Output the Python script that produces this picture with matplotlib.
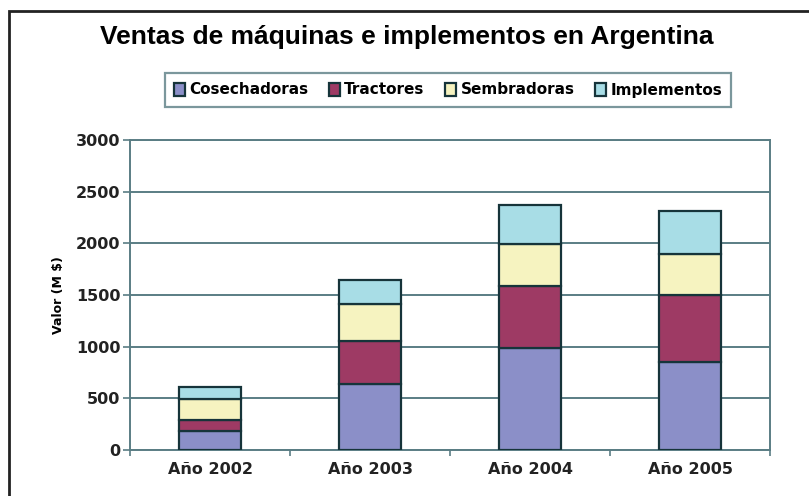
import matplotlib

matplotlib.use("Agg")
import matplotlib.pyplot as plt
import numpy as np
from matplotlib.patches import Rectangle

years = ["Año 2002", "Año 2003", "Año 2004", "Año 2005"]
cosechadoras = [187, 638, 986, 848]
tractores = [103, 416, 603, 648]
sembradoras = [203, 358, 400, 399]
implementos = [119, 232, 380, 419]

series = [
    ("Cosechadoras", cosechadoras, "#8b8fc8"),
    ("Tractores", tractores, "#9e3a64"),
    ("Sembradoras", sembradoras, "#f6f3c0"),
    ("Implementos", implementos, "#a8dde6"),
]

grid_c = "#5a7d84"
edge_c = "#16343a"

fig = plt.figure(figsize=(8.09, 4.96), dpi=100)
fig.patch.set_facecolor("white")
ax = fig.add_axes([130 / 809, 1 - 450 / 496, 640 / 809, 310 / 496])

x = np.arange(len(years))
bottom = np.zeros(len(years))
handles = []
for name, vals, color in series:
    b = ax.bar(x, vals, 0.39, bottom=bottom, color=color,
               edgecolor=edge_c, linewidth=1.6, label=name, zorder=3)
    handles.append(b)
    bottom += np.array(vals)

ax.set_xlim(-0.5, 3.5)
ax.set_ylim(0, 3000)
ax.set_yticks(np.arange(0, 3001, 500))
ax.set_xticks(x)
ax.set_xticklabels(years, fontsize=11.5, fontweight="bold", color="#222222")
ax.tick_params(axis="x", length=0, pad=9)
ax.set_xticks(np.arange(-0.5, 3.6, 1), minor=True)
ax.tick_params(axis="x", which="minor", length=4, color=grid_c, width=1.2)
ax.tick_params(axis="y", length=5, color=grid_c, width=1.2, pad=2,
               labelsize=11.5)
for lab in ax.get_yticklabels():
    lab.set_fontweight("bold")
    lab.set_color("#222222")
ax.yaxis.grid(True, color=grid_c, linewidth=1.4, zorder=0)
ax.set_axisbelow(True)
for s in ax.spines.values():
    s.set_color(grid_c)
    s.set_linewidth(1.4)
ax.set_ylabel("Valor (M $)", fontsize=9, fontweight="bold", labelpad=8)

fig.text(0.503, 1 - 37 / 496, "Ventas de máquinas e implementos en Argentina",
         ha="center", va="center", fontsize=19, fontweight="bold",
         family="Liberation Sans")

leg = fig.legend(handles=handles, loc="center",
                 bbox_to_anchor=(448 / 809, 1 - 90 / 496), ncol=4,
                 frameon=True, fancybox=False,
                 prop={"weight": "bold", "size": 11},
                 handlelength=0.7, handleheight=0.9, handletextpad=0.3,
                 columnspacing=1.35, borderpad=0.6)
leg.get_frame().set_edgecolor(grid_c)
leg.get_frame().set_linewidth(1.6)

fig.patches.append(Rectangle((9 / 809, -0.1), 1.2, 1 - 11 / 496 + 0.1,
                             transform=fig.transFigure, fill=False,
                             edgecolor="#222222", linewidth=2))

fig.savefig("out.png", dpi=100)
